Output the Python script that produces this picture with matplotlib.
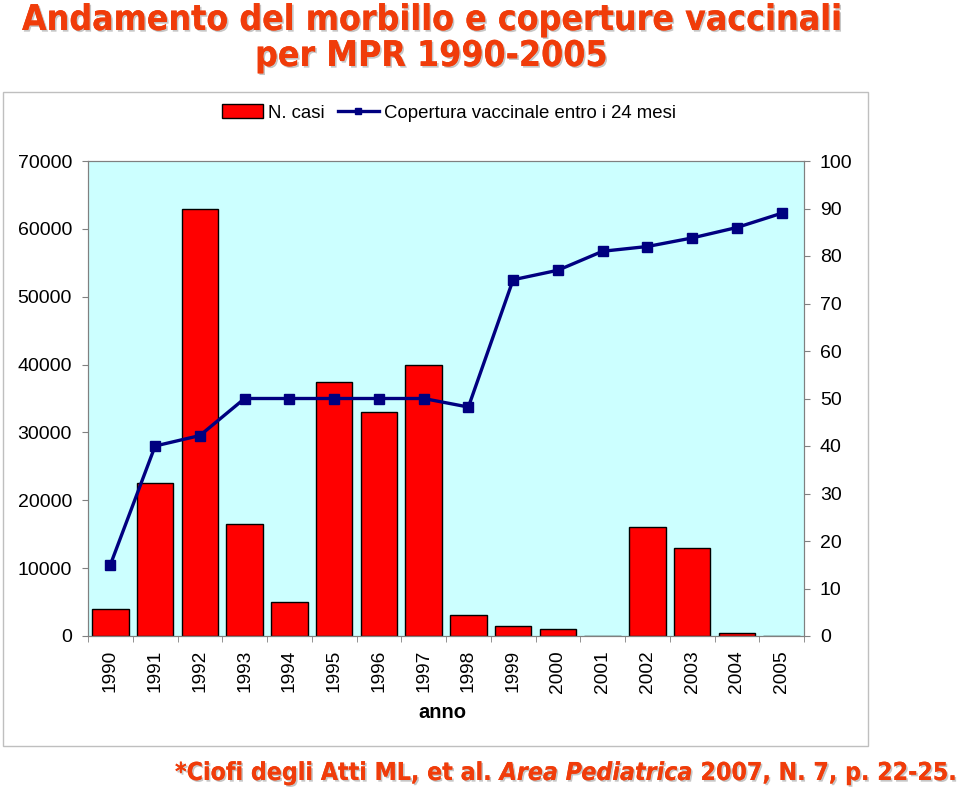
import numpy as np
import matplotlib.pyplot as plt
import matplotlib.patheffects as pe
from matplotlib.patches import Rectangle
from matplotlib.lines import Line2D

# dati
anni = ['1990', '1991', '1992', '1993', '1994', '1995', '1996', '1997',
        '1998', '1999', '2000', '2001', '2002', '2003', '2004', '2005']
casi = [4000, 22500, 63000, 16500, 5000, 37500, 33000, 40000,
        3100, 1500, 1100, 0, 16100, 13000, 450, 0]
copertura = [15, 40, 42.2, 50, 50, 50, 50, 50,
             48.2, 75, 77, 81, 82, 83.8, 86, 89]

plt.rcParams['font.family'] = ['Liberation Sans', 'DejaVu Sans']

fig = plt.figure(figsize=(9.6, 7.88), dpi=100)

# riquadro area grafico
fig.patches.append(Rectangle((3 / 960, 1 - 746 / 788), 865 / 960, 654 / 788,
                             transform=fig.transFigure, facecolor='white',
                             edgecolor='#BFBFBF', lw=1, zorder=-10))

ax = fig.add_axes([88 / 960, 1 - 636 / 788, 716 / 960, 475 / 788])
ax.set_facecolor('#CCFFFF')
x = np.arange(len(anni))
ax.bar(x, casi, width=0.82, color='#FF0000', edgecolor='black', lw=1, zorder=2)
ax.set_xlim(-0.5, len(anni) - 0.5)
ax.set_ylim(0, 70000)
ax.set_yticks(range(0, 70001, 10000))
ax.set_xticks(x)
ax.set_xticklabels(anni, rotation=90, fontsize=13.8)
ax.set_xticks(np.arange(-0.5, len(anni), 1), minor=True)
ax.tick_params(axis='x', which='major', length=0, pad=10)
ax.tick_params(axis='x', which='minor', length=4, color='#808080', direction='out')
ax.tick_params(axis='y', length=4, color='#808080', labelsize=14, pad=7.5)
for s in ax.spines.values():
    s.set_color('#808080')

ax2 = ax.twinx()
ax2.plot(x, copertura, color='#000080', lw=2.4, marker='s', markersize=6.5, zorder=3)
ax2.set_ylim(0, 100)
ax2.set_yticks(range(0, 101, 10))
ax2.tick_params(axis='y', length=4, color='#808080', labelsize=14, pad=7.5)
for s in ax2.spines.values():
    s.set_color('#808080')

fig.text(442 / 960, 1 - 712 / 788, 'anno', ha='center', va='center',
         fontsize=14.5, fontweight='bold')

# legenda
handles = [Rectangle((0, 0), 1, 1, facecolor='#FF0000', edgecolor='black', lw=1),
           Line2D([], [], color='#000080', lw=2.4, marker='s', markersize=5)]
fig.legend(handles, ['N. casi', 'Copertura vaccinale entro i 24 mesi'],
           loc='center', bbox_to_anchor=(449 / 960, 1 - 113 / 788), ncol=2,
           frameon=False, fontsize=13.4, handlelength=2.2, handletextpad=0.3,
           columnspacing=0.7)

# titolo con ombra
ombra = [pe.withSimplePatchShadow(offset=(1.2, -1.2), shadow_rgbFace='#A0A0A0', alpha=0.6),
         pe.Normal()]
tit = dict(color='#F03C0A', fontweight='bold', fontsize=25.5, ha='center', va='center',
           family='DejaVu Sans', fontstretch='condensed', path_effects=ombra)
fig.text(431 / 960, 1 - 20 / 788, 'Andamento del morbillo e coperture vaccinali', **tit)
fig.text(431 / 960, 1 - 56 / 788, 'per MPR 1990-2005', **tit)

# nota in basso, pezzi affiancati
nota = dict(color='#F03C0A', fontweight='bold', fontsize=17.8, ha='left', va='center',
            family='DejaVu Sans', fontstretch='condensed', path_effects=ombra)
pezzi = [('*Ciofi degli Atti ML, et al. ', 'normal'),
         ('Area Pediatrica', 'italic'),
         (' 2007, N. 7, p. 22-25.', 'normal')]
fig.canvas.draw()
r = fig.canvas.get_renderer()
xp = 175
for testo, stile in pezzi:
    t = fig.text(xp / 960, 1 - 773 / 788, testo, style=stile, **nota)
    bb = t.get_window_extent(renderer=r)
    xp += bb.width

fig.savefig('out.png', dpi=100)
